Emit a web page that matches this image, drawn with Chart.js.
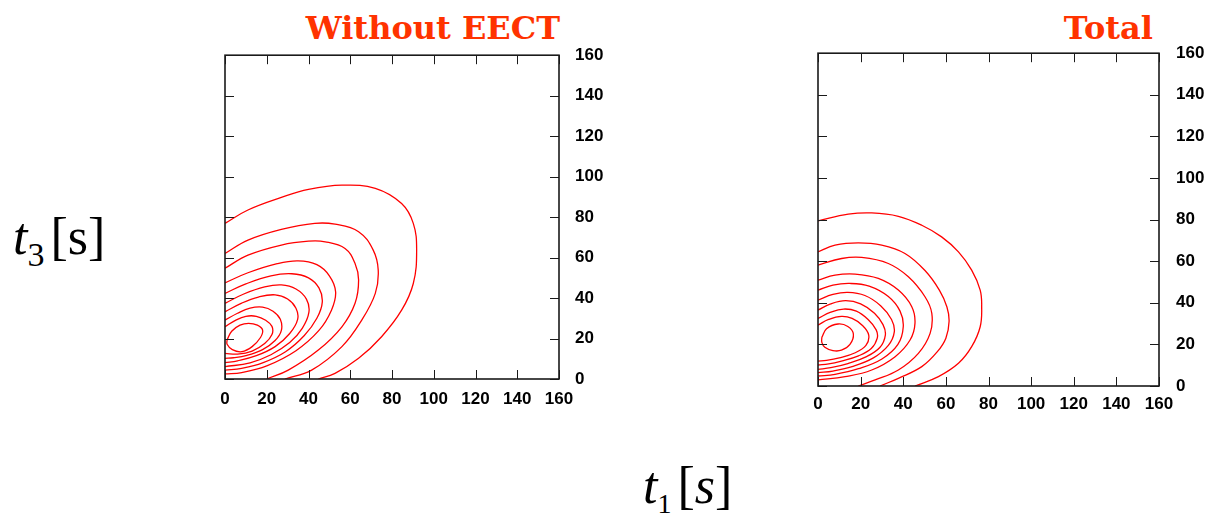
<!DOCTYPE html>
<html>
<head>
<meta charset="utf-8">
<script src="https://cdn.jsdelivr.net/npm/chart.js@4.4.1/dist/chart.umd.min.js"></script>
<style>
  html, body { margin: 0; padding: 0; background: #fff; }
  body { width: 1209px; height: 526px; position: relative; overflow: hidden; }
  .wrap { position: absolute; }
  .ttl { position: absolute; font-family: "DejaVu Serif", serif; font-weight: bold; font-size: 32px;
         color: #ff3300; line-height: 1; white-space: nowrap; }
  .lab { position: absolute; font-family: "Liberation Serif", "Times New Roman", serif; font-size: 52px;
         line-height: 1; white-space: nowrap; color: #000; }
  .lab .sb { font-size: 34px; position: relative; top: 12px; }
</style>
</head>
<body>

<div class="ttl" style="right:649px; top:12px;">Without EECT</div>
<div class="ttl" style="right:56px; top:12px;">Total</div>

<div class="lab" style="left:13px; top:211px;"><i>t</i><span class="sb">3</span><span style="margin-left:6px">[s]</span></div>
<div class="lab" style="left:643px; top:460px;"><i>t</i><span class="sb" style="font-size:28px; top:10px;">1</span><span style="margin-left:6px">[<i>s</i>]</span></div>

<div class="wrap" style="left:205px; top:29px; width:420px; height:391px;">
  <canvas id="chartLeft" width="420" height="391"></canvas>
</div>
<div class="wrap" style="left:798px; top:26px; width:411px; height:394px;">
  <canvas id="chartRight" width="411" height="394"></canvas>
</div>

<script>
// axis ticks (both panels share them)
const tickValues = [0, 20, 40, 60, 80, 100, 120, 140, 160];

// ---- "Without EECT" contours, [t1, t3], outer -> inner
const woLevel1 = [[0,76.9],[11,83.5],[27,89.7],[40,93.7],[56,95.8],[72,94.2],[84.6,86.7],[90.2,76.9],[91.8,63.7],[90.2,47.2],[84.6,34],[75,20.9],[64,10.2],[52.7,2.8],[44.7,0]];
const woLevel2 = [[0,62],[11,68.6],[27,73.9],[43,76.9],[52.7,76.5],[64,72.8],[71,63.7],[73.4,53.8],[72,42.3],[65.5,29.1],[56,16],[41.5,4.4],[28.7,0]];
const woLevel3 = [[0,54.7],[11,61.2],[27,66.2],[40,68.1],[48,67.8],[57.5,64.5],[62.3,57.1],[64,48.9],[62.3,37.4],[56,25.8],[44.7,14.3],[30.3,4.4],[20,0]];
const woLevel4 = [[0,47.5],[11,52.5],[25,57],[35,58.4],[44,56.5],[50,51],[53,43],[51,34],[45,24],[34,14],[20,6.5],[8,3.2],[0,2.5]];
const woLevel5 = [[0,42.3],[10,47],[22,51],[32,52],[40,50],[45,45],[46.6,38],[44,30],[38,21.5],[29,13.5],[18,8],[8,5.3],[0,4.4]];
const woLevel6 = [[0,37.4],[9,42],[19,45.5],[27,46.5],[34,44.5],[39,39.5],[40.2,33],[37,25],[31,18],[22,12],[12,8],[0,6.1]];
const woLevel7 = [[0,33.2],[8,37.5],[16,40.5],[24,41.6],[30,39.5],[34,35],[34.8,29.5],[31,22.5],[24,16],[15,11.5],[6,9],[0,8.1]];
const woLevel8 = [[0,29.1],[6,32.5],[12,35],[18,35.5],[23,33.5],[26.5,29.5],[27,24],[24,19],[18,14.5],[10,11.5],[4,10.5],[0,10.2]];
const woLevel9 = [[0,25.8],[5,29],[10,31],[15,31],[19.5,29],[22.5,26],[22.5,22],[19,17.5],[13,13.8],[6,12.3],[0,12.7]];
const woLevel10 = [[1,19.3],[3.2,23.6],[7.2,26.6],[11.3,27.5],[15.5,26.6],[18,24.2],[17,20.5],[13,16],[8.1,13.5],[3.5,14.5],[1,17.2],[1,19.3]];

// ---- "Total" contours
const totLevel1 = [[0,79.4],[14.2,82.6],[25.2,83.2],[37.7,81.6],[48.7,77.3],[58,71.7],[65.9,64.5],[72.1,55.7],[76.1,46.1],[76.8,38.1],[76.1,28.5],[72.1,18.9],[65.9,10.9],[56.5,4.5],[45.5,0]];
const totLevel2 = [[0,64.5],[8,67.7],[18.9,68.8],[29.9,67.7],[40.8,63.7],[50.2,55.5],[57,46],[60.5,38],[61.5,31],[60,23],[56,16.5],[48.7,9.3],[37.7,3.7],[29.1,0]];
const totLevel3 = [[0,58.1],[11.1,61.3],[20.5,61.8],[33,58.9],[42.4,52.5],[50.2,42.9],[53.4,34.9],[52.6,25.3],[47.1,15.7],[37.7,7.7],[26.8,2.9],[18.9,0]];
const totLevel4 = [[0,50.9],[8,53.3],[17.4,53.8],[28.3,51.7],[37.7,46.1],[44,38.1],[45.5,30.1],[43.2,22.1],[36.2,14.1],[25.2,7.7],[12.7,4.5],[0,2.9]];
const totLevel5 = [[0,46.1],[7,48.5],[15,49.3],[24,48],[33,43],[38.5,36],[40,28.5],[37.5,20],[30,13],[19,8.3],[8,5.6],[0,4.8]];
const totLevel6 = [[0,41.3],[7,44],[14,45],[22,43.5],[29.5,38.5],[34.5,32],[35.8,26],[33,19.5],[26,13.5],[16,9.3],[7,7.2],[0,6.4]];
const totLevel7 = [[0,36.5],[6,39.5],[13,41],[20,39.5],[26.5,35],[30.5,29.5],[31.6,24.5],[29,18.5],[22.5,14],[14,10.8],[6,8.8],[0,8]];
const totLevel8 = [[0,32.5],[6,35.5],[12,37],[18,36],[23.5,32],[27.3,27],[27.8,23],[25,18],[19,14.5],[11,12],[5,10.6],[0,10.1]];
const totLevel9 = [[0,29.3],[5,32],[11,33.5],[16,32.5],[21,29],[23.8,24.5],[22.5,19.5],[17.5,16],[10,13.5],[4,12.3],[0,12]];
const totLevel10 = [[1.8,23.4],[4,27.5],[9.4,29.8],[14,28.6],[16.6,25],[15,20],[11,17.2],[7,17],[3.2,18.6],[1.8,21],[1.8,23.4]];

const withoutEECT = [woLevel1, woLevel2, woLevel3, woLevel4, woLevel5, woLevel6, woLevel7, woLevel8, woLevel9, woLevel10];
const total = [totLevel1, totLevel2, totLevel3, totLevel4, totLevel5, totLevel6, totLevel7, totLevel8, totLevel9, totLevel10];

// box round the plot with little inward ticks on all four sides (gnuplot look)
const frameTicks = {
  id: "frameTicks",
  afterDatasetsDraw(chart) {
    const { ctx, chartArea: a, scales } = chart;
    const len = 9;
    ctx.save();
    ctx.strokeStyle = "#1a1a1a";
    ctx.lineWidth = 1;
    ctx.beginPath();
    scales.x.ticks.forEach((t) => {
      const px = Math.round(scales.x.getPixelForValue(t.value)) + 0.5;
      ctx.moveTo(px, a.bottom); ctx.lineTo(px, a.bottom - len);
      ctx.moveTo(px, a.top); ctx.lineTo(px, a.top + len);
    });
    scales.y.ticks.forEach((t) => {
      const py = Math.round(scales.y.getPixelForValue(t.value)) + 0.5;
      ctx.moveTo(a.left, py); ctx.lineTo(a.left + len, py);
      ctx.moveTo(a.right, py); ctx.lineTo(a.right - len, py);
    });
    ctx.stroke();
    ctx.lineWidth = 1.6;
    ctx.strokeRect(a.left, a.top, a.right - a.left, a.bottom - a.top);
    ctx.restore();
  },
};

function drawContourChart(canvasId, levels, cfg) {
  const canvas = document.getElementById(canvasId);
  const tickFont = { family: '"Liberation Sans", Arial, sans-serif', weight: "bold", size: 17 };

  return new Chart(canvas, {
    type: "scatter",
    data: {
      datasets: levels.map((pts) => ({
        data: pts.map(([x, y]) => ({ x, y })),
        showLine: true,
        borderColor: "#ff0000",
        borderWidth: 1.3,
        pointRadius: 0,
        tension: 0.4,
        fill: false,
      })),
    },
    options: {
      responsive: false,
      animation: false,
      layout: { padding: cfg.padding },
      plugins: { legend: { display: false }, tooltip: { enabled: false } },
      scales: {
        x: {
          type: "linear",
          position: "bottom",
          min: 0,
          max: 160,
          afterBuildTicks: (s) => { s.ticks = tickValues.map((v) => ({ value: v })); },
          afterFit: (s) => { s.height = cfg.xHeight; },
          ticks: { font: tickFont, color: "#000", padding: cfg.xPad, maxRotation: 0, autoSkip: false },
          grid: { display: false, drawTicks: false },
          border: { display: false },
        },
        y: {
          type: "linear",
          position: "right",
          min: 0,
          max: 160,
          afterBuildTicks: (s) => { s.ticks = tickValues.map((v) => ({ value: v })); },
          afterFit: (s) => { s.width = cfg.yWidth; },
          ticks: { font: tickFont, color: "#000", padding: cfg.yPad, autoSkip: false },
          grid: { display: false, drawTicks: false },
          border: { display: false },
        },
      },
    },
    plugins: [frameTicks],
  });
}

// y tick padding also pushes the plot top down by (label height / 2 + padding)
drawContourChart("chartLeft", withoutEECT, {
  padding: { left: 20, top: 0, right: 16, bottom: 0 },
  xHeight: 41, yWidth: 50, xPad: 10, yPad: 16,
});
drawContourChart("chartRight", total, {
  padding: { left: 20, top: 0, right: 0, bottom: 0 },
  xHeight: 34, yWidth: 50, xPad: 8, yPad: 17,
});
</script>
</body>
</html>
